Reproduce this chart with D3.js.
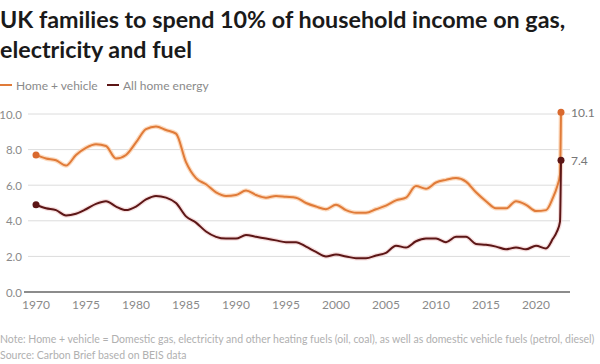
<!DOCTYPE html>
<html><head><meta charset="utf-8">
<script src="https://cdn.jsdelivr.net/npm/d3@7"></script>
<style>
html,body{margin:0;padding:0;background:#fff;}
svg{display:block;}
text{font-family:Lato,"Noto Sans",sans-serif;}
</style></head>
<body>
<svg id="chart" width="600" height="364"></svg>
<script>
// ---- data ----
const years = [1970,1971,1972,1973,1974,1975,1976,1977,1978,1979,
  1980,1981,1982,1983,1984,1985,1986,1987,1988,1989,
  1990,1991,1992,1993,1994,1995,1996,1997,1998,1999,
  2000,2001,2002,2003,2004,2005,2006,2007,2008,2009,
  2010,2011,2012,2013,2014,2015,2016,2017,2018,2019,
  2020,2021,2021.7,2022.1,2022.4,2022.5];
const homeVehicle = [7.7,7.5,7.4,7.1,7.7,8.1,8.3,8.2,7.5,7.7,
  8.4,9.15,9.3,9.1,8.9,7.3,6.4,6.05,5.6,5.4,
  5.45,5.7,5.45,5.3,5.4,5.35,5.3,5.0,4.8,4.65,
  4.9,4.6,4.45,4.45,4.65,4.85,5.15,5.3,5.95,5.8,
  6.15,6.3,6.4,6.2,5.6,5.1,4.7,4.7,5.1,4.9,
  4.55,4.6,5.3,5.9,6.6,10.1];
const allHomeEnergy = [4.9,4.7,4.6,4.3,4.4,4.65,4.95,5.1,4.8,4.6,
  4.8,5.2,5.4,5.3,5.0,4.25,3.9,3.4,3.1,3.0,
  3.0,3.2,3.1,3.0,2.9,2.8,2.8,2.55,2.25,2.0,
  2.1,2.0,1.9,1.9,2.05,2.2,2.6,2.5,2.85,3.0,
  3.0,2.8,3.1,3.1,2.7,2.65,2.55,2.4,2.5,2.4,
  2.6,2.45,3.0,3.4,3.95,7.4];
const seriesNames = ["Home + vehicle","All home energy"];
const xTicks = [1970,1975,1980,1985,1990,1995,2000,2005,2010,2015,2020];
const yTicks = [0,2,4,6,8,10];
const titleLines = ["UK families to spend 10% of household income on gas,","electricity and fuel"];
const noteLines = ["Note: Home + vehicle = Domestic gas, electricity and other heating fuels (oil, coal), as well as domestic vehicle fuels (petrol, diesel)",
  "Source: Carbon Brief based on BEIS data"];

// ---- styles ----
const colors = ["#e07b39","#5c1616"];
const halos = ["rgba(252,215,185,0.9)","rgba(240,200,200,0.6)"];

const svg = d3.select("#chart");
const x = d3.scaleLinear().domain([1970,2020]).range([36,536]);
const y = d3.scaleLinear().domain([0,10]).range([292,114]);

// title
svg.append("g").selectAll("text").data(titleLines).join("text")
  .attr("x",0).attr("y",(d,i)=>28+i*30)
  .attr("font-size",23.3).attr("font-weight",700).attr("fill","#1a1a1a")
  .text(d=>d);

// legend
const leg = svg.append("g");
const legX = [0,107];
seriesNames.forEach((n,i)=>{
  leg.append("line").attr("x1",legX[i]).attr("x2",legX[i]+12).attr("y1",85).attr("y2",85)
    .attr("stroke",colors[i]).attr("stroke-width",2);
  leg.append("text").attr("x",legX[i]+16).attr("y",89.5).attr("font-size",12).attr("fill","#8a8a8a").text(n);
});

// grid
svg.append("g").selectAll("line").data(yTicks.filter(d=>d>0)).join("line")
  .attr("x1",28).attr("x2",570).attr("y1",d=>y(d)).attr("y2",d=>y(d))
  .attr("stroke","#dcdcdc").attr("stroke-width",1);
svg.append("line").attr("x1",24).attr("x2",570).attr("y1",y(0)).attr("y2",y(0))
  .attr("stroke","#666").attr("stroke-width",1.5);

// y labels
svg.append("g").selectAll("text").data(yTicks).join("text")
  .attr("x",22).attr("y",d=>y(d)+4.5).attr("text-anchor","end")
  .attr("font-size",11.5).attr("fill","#8a8a8a").text(d=>d3.format(".1f")(d));

// x labels
svg.append("g").selectAll("text").data(xTicks).join("text")
  .attr("x",d=>x(d)).attr("y",309).attr("text-anchor","middle")
  .attr("font-size",12).attr("fill","#8a8a8a").text(d=>d);

// lines
const series = [homeVehicle, allHomeEnergy];
const line = d3.line().x(d=>x(d[0])).y(d=>y(d[1])).curve(d3.curveMonotoneX);
[1,0].forEach(i=>{
  const pts = years.map((yr,j)=>[yr,series[i][j]]);
  svg.append("path").attr("d",line(pts)).attr("fill","none")
    .attr("stroke",halos[i]).attr("stroke-width",4.5).attr("stroke-linejoin","round");
});
[0,1].forEach(i=>{
  const pts = years.map((yr,j)=>[yr,series[i][j]]);
  svg.append("path").attr("d",line(pts)).attr("fill","none")
    .attr("stroke",colors[i]).attr("stroke-width",2).attr("stroke-linejoin","round");
});
// dots
const dotColors = ["#d9692e","#5c1616"];
[0,1].forEach(i=>{
  const n = years.length-1;
  [[years[0],series[i][0]],[years[n],series[i][n]]].forEach(p=>{
    svg.append("circle").attr("cx",x(p[0])).attr("cy",y(p[1])).attr("r",3.5).attr("fill",dotColors[i]);
  });
  svg.append("text").attr("x",x(years[n])+10).attr("y",y(series[i][n])+4.5)
    .attr("font-size",12).attr("fill","#777").text(d3.format(".1f")(series[i][n]));
});

// notes
svg.append("g").selectAll("text").data(noteLines).join("text")
  .attr("x",0).attr("y",(d,i)=>343+i*16).attr("font-size",10.5).attr("fill","#b0b0b0").text(d=>d);
</script>
</body></html>
